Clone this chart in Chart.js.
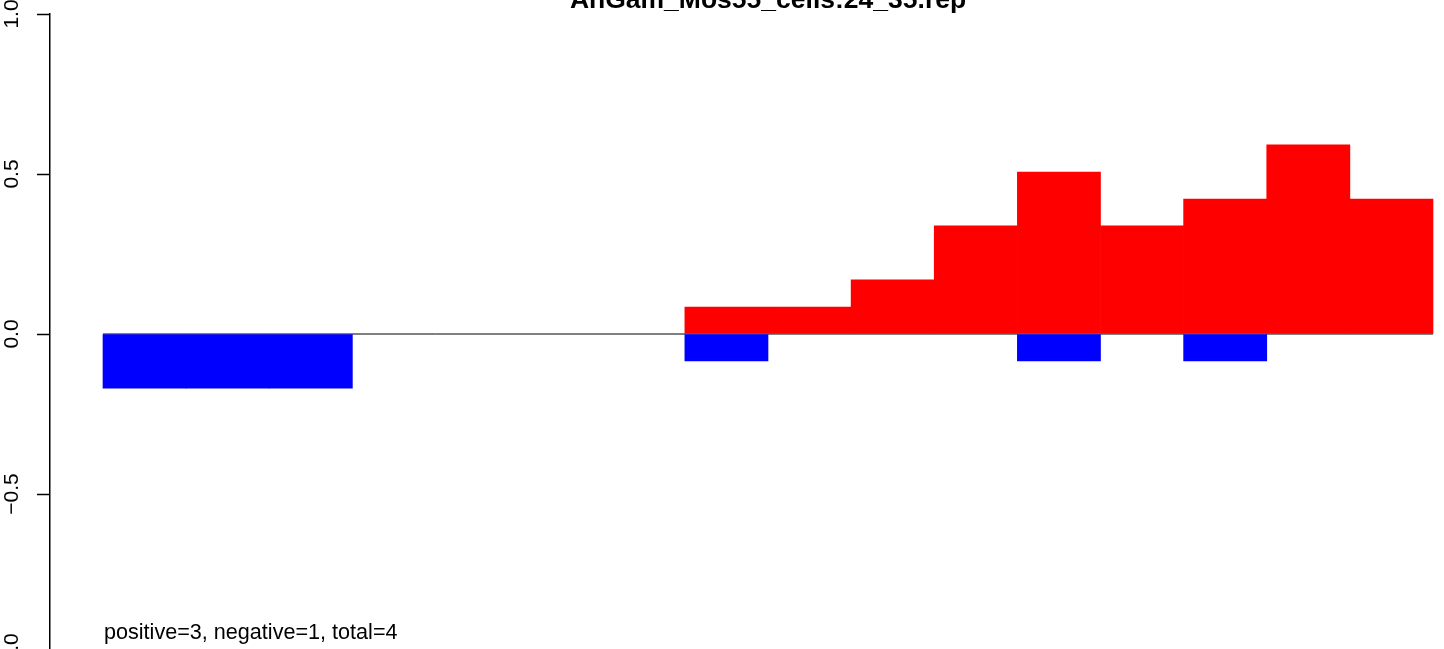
<!DOCTYPE html>
<html>
<head>
<meta charset="utf-8">
<script src="https://cdn.jsdelivr.net/npm/chart.js@4.4.1/dist/chart.umd.min.js"></script>
<style>
  html, body { margin: 0; padding: 0; background: #fff; overflow: hidden; }
  #wrap { width: 1444px; height: 649px; overflow: hidden; position: relative; }
  canvas { display: block; }
</style>
</head>
<body>
<div id="wrap"><canvas id="chart" width="1500" height="680"></canvas></div>
<script>
// ===== DATA =====
const chartTitle = 'AnGam_Mos55_cells:24_35.rep';
const noteText = 'positive=3, negative=1, total=4';
const bins = [0, 1, 2, 3, 4, 5, 6, 7, 8, 9, 10, 11, 12, 13, 14, 15];
const positiveValues = [null, null, null, null, null, null, null, 0.084, 0.084, 0.169, 0.338, 0.506, 0.338, 0.422, 0.591, 0.422];
const negativeValues = [-0.169, -0.169, -0.169, null, null, null, null, -0.084, null, null, null, -0.084, null, -0.084, null, null];
const yTicks = [-1, -0.5, 0, 0.5, 1];
const baselineRange = [-0.5, 15.5];

const FONT = '"Liberation Sans", Arial, sans-serif';

// title + annotation text, drawn at scale positions
const textPlugin = {
  id: 'rText',
  afterDraw(chart) {
    const { ctx, chartArea, scales } = chart;
    ctx.save();
    ctx.fillStyle = '#000';
    ctx.font = 'bold 26.5px ' + FONT;
    ctx.textAlign = 'center';
    ctx.textBaseline = 'alphabetic';
    ctx.fillText(chartTitle, (chartArea.left + chartArea.right) / 2, 8);

    ctx.font = '21.6px ' + FONT;
    ctx.textAlign = 'left';
    ctx.fillText(noteText, scales.x.getPixelForValue(-0.5) + 1, scales.y.getPixelForValue(-0.953));
    ctx.restore();
  }
};

const pts = vals => bins.map((b, i) => ({ x: b, y: vals[i] }));

new Chart(document.getElementById('chart'), {
  type: 'bar',
  data: {
    datasets: [
      { label: 'positive', data: pts(positiveValues), backgroundColor: '#FF0000', borderWidth: 0, order: 1 },
      { label: 'negative', data: pts(negativeValues), backgroundColor: '#0000FF', borderWidth: 0, order: 1 },
      {
        type: 'line', label: 'zero',
        data: baselineRange.map(x => ({ x, y: 0 })),
        borderColor: '#000', borderWidth: 1, pointRadius: 0, fill: false, order: 2
      }
    ]
  },
  options: {
    responsive: false,
    animation: false,
    events: [],
    layout: { padding: { left: 0, top: 14, right: 14, bottom: 26 } },
    datasets: { bar: { barPercentage: 1, categoryPercentage: 1 } },
    plugins: { legend: { display: false }, tooltip: { enabled: false }, title: { display: false } },
    scales: {
      x: {
        type: 'linear', display: false, stacked: true, offset: false,
        min: -1.1376, max: 16.1376,
        grid: { offset: false },
        ticks: { stepSize: 1, includeBounds: false }
      },
      y: {
        stacked: true,
        min: -1, max: 1,
        afterBuildTicks: s => { s.ticks = yTicks.map(v => ({ value: v })); },
        afterFit: s => { s.width = 50; s.paddingTop = 0; s.paddingBottom = 0; },
        border: { display: true, color: '#000', width: 1.5 },
        grid: { drawOnChartArea: false, drawTicks: true, tickLength: 13, tickColor: '#000', tickWidth: 1.5 },
        ticks: {
          autoSkip: false, minRotation: 90, maxRotation: 90, crossAlign: 'center', padding: 4,
          color: '#000', font: { family: FONT, size: 21 },
          callback: v => v.toFixed(1).replace('-', '\u2212')
        }
      }
    }
  },
  plugins: [textPlugin]
});
</script>
</body>
</html>
